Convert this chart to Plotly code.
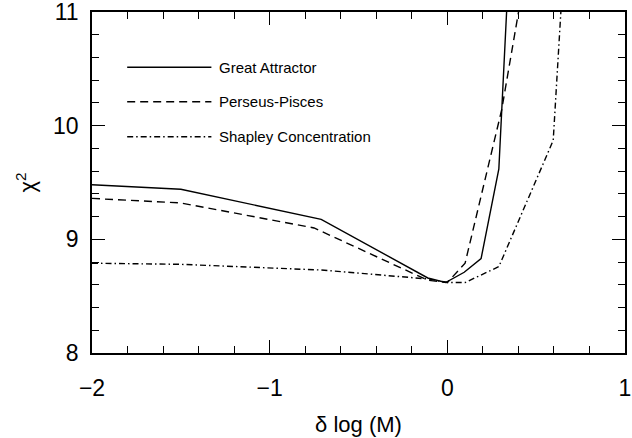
import plotly.graph_objects as go

# Data
ga_x = [-2.0, -1.5, -0.71, -0.11, -0.01, 0.095, 0.19, 0.29, 0.40]
ga_y = [9.48, 9.44, 9.176, 8.66, 8.62, 8.71, 8.83, 9.62, 13.1]

pp_x = [-2.0, -1.5, -0.75, -0.11, 0.0, 0.10, 0.306, 0.405, 0.50]
pp_y = [9.36, 9.32, 9.10, 8.64, 8.62, 8.79, 10.14, 11.02, 11.9]

sc_x = [-2.0, -1.5, -0.71, -0.1, 0.0, 0.10, 0.29, 0.596, 0.70]
sc_y = [8.79, 8.78, 8.73, 8.65, 8.62, 8.62, 8.76, 9.87, 12.6]

series_names = ["Great Attractor", "Perseus-Pisces", "Shapley Concentration"]
dashes = ["solid", "8px,5px", "6px,3px,1.5px,3px"]

x_ticks = [-2, -1, 0, 1]
x_ticklabels = ["\u22122", "\u22121", "0", "1"]
y_ticks = [8, 9, 10, 11]
y_ticklabels = ["8", "9", "10", "11"]

FONT = "Liberation Sans, Arial, Helvetica, sans-serif"

fig = go.Figure()
for xs, ys, name, d in zip([ga_x, pp_x, sc_x], [ga_y, pp_y, sc_y], series_names, dashes):
    fig.add_trace(go.Scatter(x=xs, y=ys, mode="lines", name=name,
                             line=dict(color="black", width=1.4, dash=d),
                             showlegend=False, cliponaxis=True))

# Legend drawn inside the plot (paper coordinates)
leg_y = [0.838, 0.737, 0.634]
for yy, name, d in zip(leg_y, series_names, dashes):
    fig.add_shape(type="line", xref="paper", yref="paper",
                  x0=0.066, x1=0.224, y0=yy, y1=yy,
                  line=dict(color="black", width=1.4, dash=d))
    fig.add_annotation(xref="paper", yref="paper", x=0.235, y=yy,
                       text=name, showarrow=False, xanchor="left", yanchor="middle",
                       font=dict(family=FONT, size=15, color="black"))

axis_common = dict(
    showgrid=False, zeroline=False, showline=True, linecolor="black", linewidth=1.6,
    mirror="ticks", ticks="inside", ticklen=13, tickwidth=1.3, tickcolor="black",
    tickfont=dict(family=FONT, size=23, color="black"),
    automargin=False, ticklabeloverflow="allow",
)

fig.update_xaxes(range=[-2.0001, 1.0001], tickvals=x_ticks, ticktext=x_ticklabels,
                 minor=dict(dtick=0.2, tick0=0, ticks="inside", ticklen=7, tickwidth=1.2, tickcolor="black"),
                 title=dict(text="\u03b4 log (M)", font=dict(family=FONT, size=22, color="black"), standoff=16),
                 ticklabelstandoff=14,
                 **axis_common)
fig.update_yaxes(range=[7.9999, 11.0001], tickvals=y_ticks, ticktext=y_ticklabels,
                 minor=dict(dtick=0.2, tick0=0, ticks="inside", ticklen=7, tickwidth=1.2, tickcolor="black"),
                 title=dict(text="\u03c7<sup>2</sup>", font=dict(family=FONT, size=22, color="black"), standoff=11),
                 ticklabelstandoff=7,
                 **axis_common)

fig.update_layout(width=632, height=438, margin=dict(l=92, r=7, t=12, b=85),
                  paper_bgcolor="white", plot_bgcolor="white", showlegend=False)

fig.write_html("out.html")
